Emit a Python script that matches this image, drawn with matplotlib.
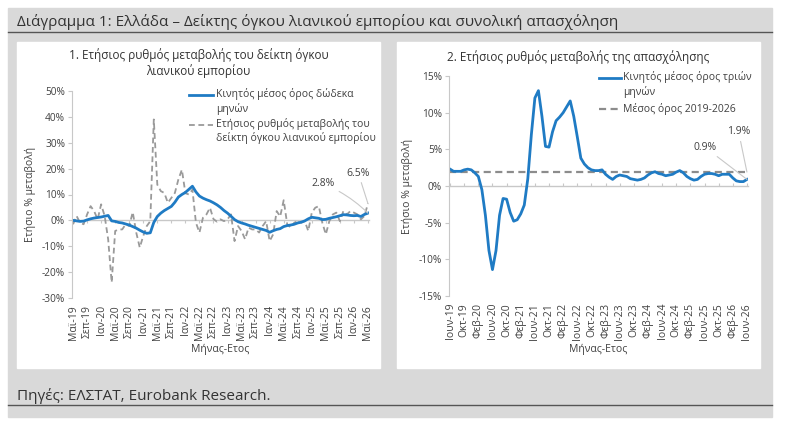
import matplotlib
matplotlib.use('Agg')
import matplotlib.pyplot as plt
from matplotlib.patches import Rectangle
from matplotlib.lines import Line2D

plt.rcParams['font.family'] = ['Open Sans', 'DejaVu Sans']

# --- δεδομένα: λιανικό εμπόριο (Μαϊ-19 .. Μαϊ-26, μηνιαία) ---
retail_ma12 = [0.0, -0.2, -0.4, -0.3, 0.2, 0.6, 0.9, 1.1, 1.3, 1.6, 1.9, -0.2,
               -0.4, -0.8, -1.0, -1.4, -1.8, -2.4, -3.0, -3.8, -4.5, -5.0, -4.8, -0.8,
               1.5, 2.8, 3.8, 4.6, 5.4, 7.0, 9.0, 10.0, 10.8, 12.0, 13.2, 11.0,
               9.4, 8.6, 8.0, 7.5, 6.8, 6.0, 5.0, 3.8, 2.8, 1.6, 0.3, -0.5,
               -1.0, -1.4, -1.9, -2.3, -2.7, -3.1, -3.5, -3.9, -4.6, -4.0, -3.5, -3.2,
               -2.4, -2.0, -1.8, -1.5, -1.0, -0.7, -0.2, 0.6, 1.2, 1.0, 0.8, 0.3,
               0.4, 0.8, 1.1, 1.4, 1.8, 2.2, 2.1, 1.9, 1.8, 1.9, 1.5, 2.3, 2.8]
retail_yoy = [-1.5, 1.7, -0.9, -1.5, 2.3, 5.5, 3.6, 0.4, 6.2, 1.7, -7.3, -24.0,
              -4.1, -3.5, -3.5, -1.5, -2.2, 3.2, -4.7, -10.5, -6.0, -2.2, -0.3, 39.0,
              13.8, 11.3, 10.6, 6.8, 8.7, 10.6, 15.8, 19.6, 10.5, 10.0, 11.9, -0.9,
              -4.7, 1.0, 2.3, 4.9, 0.5, -0.5, 0.4, -0.3, 0.4, 2.3, -8.0, -2.2,
              -4.1, -7.3, -2.8, -3.5, -3.5, -4.7, -2.2, -0.3, -8.0, -5.4, 3.6, 1.5,
              7.8, -1.5, -2.8, -0.9, -0.3, -0.9, -0.3, -4.1, 3.0, 4.9, 5.5, -0.9,
              -5.4, -0.3, 2.3, 3.0, -0.3, 3.6, 2.3, 3.6, 3.0, 2.3, 0.4, 1.7, 6.5]
retail_labels = ['Μαϊ-19', 'Σεπ-19', 'Ιαν-20', 'Μαϊ-20', 'Σεπ-20', 'Ιαν-21',
                 'Μαϊ-21', 'Σεπ-21', 'Ιαν-22', 'Μαϊ-22', 'Σεπ-22', 'Ιαν-23',
                 'Μαϊ-23', 'Σεπ-23', 'Ιαν-24', 'Μαϊ-24', 'Σεπ-24', 'Ιαν-25',
                 'Μαϊ-25', 'Σεπ-25', 'Ιαν-26', 'Μαϊ-26']

# --- δεδομένα: απασχόληση (Ιουν-19 .. Ιουν-26, μηνιαία) ---
employment_ma3 = [2.3, 2.0, 2.0, 2.0, 2.2, 2.3, 2.2, 1.8, 1.3, -0.5, -4.0, -8.8,
                  -11.4, -8.8, -4.0, -1.7, -1.8, -3.6, -4.8, -4.6, -3.8, -2.6, 1.0, 7.0,
                  12.0, 13.0, 9.5, 5.4, 5.3, 7.4, 8.9, 9.4, 10.0, 10.8, 11.6, 9.5,
                  6.7, 3.8, 3.0, 2.5, 2.2, 2.1, 2.1, 2.2, 1.6, 1.2, 0.9, 1.3,
                  1.5, 1.4, 1.3, 1.0, 0.9, 0.8, 0.9, 1.1, 1.5, 1.8, 1.95, 1.7,
                  1.6, 1.4, 1.5, 1.6, 1.9, 2.1, 1.8, 1.3, 1.0, 0.8, 0.9, 1.3,
                  1.6, 1.7, 1.7, 1.6, 1.4, 1.6, 1.6, 1.6, 1.1, 0.7, 0.6, 0.6, 0.9]
employment_mean = 1.9
employment_labels = ['Ιουν-19', 'Οκτ-19', 'Φεβ-20', 'Ιουν-20', 'Οκτ-20', 'Φεβ-21',
                     'Ιουν-21', 'Οκτ-21', 'Φεβ-22', 'Ιουν-22', 'Οκτ-22', 'Φεβ-23',
                     'Ιουν-23', 'Οκτ-23', 'Φεβ-24', 'Ιουν-24', 'Οκτ-24', 'Φεβ-25',
                     'Ιουν-25', 'Οκτ-25', 'Φεβ-26', 'Ιουν-26']

BLUE = '#1f7bc4'
GREY = '#9a9a9a'
LIGHT = '#c8c8c8'
TXT = '#404040'
DASH = (0, (3.2, 2))

W, H = 799, 429


def fx(px):
    return px / W


def fy(py):
    return 1 - py / H


fig = plt.figure(figsize=(W / 100, H / 100), dpi=100)
fig.patch.set_facecolor('white')

# γκρι πλαίσιο και λευκά panels
fig.add_artist(Rectangle((fx(8), fy(417)), fx(772) - fx(8), (417 - 8) / H,
                         transform=fig.transFigure, color='#d9d9d9', zorder=-10))
for x0, x1 in [(17, 380), (397, 760)]:
    fig.add_artist(Rectangle((fx(x0), fy(368)), fx(x1) - fx(x0), (368 - 42) / H,
                             transform=fig.transFigure, color='white', zorder=-9))
for yy in [32, 405]:
    fig.add_artist(Line2D([fx(8), fx(772)], [fy(yy), fy(yy)], transform=fig.transFigure,
                          color='#555555', lw=1.0, zorder=-8))

fig.text(fx(17), fy(22), 'Διάγραμμα 1: Ελλάδα – Δείκτης όγκου λιανικού εμπορίου και συνολική απασχόληση',
         fontsize=11, color='#333333', va='center', ha='left')
fig.text(fx(17), fy(396), 'Πηγές: ΕΛΣΤΑΤ, Eurobank Research.',
         fontsize=11, color='#333333', va='center', ha='left')


def style_axes(ax, ylim, yticks, labels):
    n = len(labels)
    ticks = [4 * k for k in range(n)]
    ax.set_facecolor('none')
    ax.set_xlim(-0.3, 84.3)
    ax.set_ylim(*ylim)
    for s in ['top', 'right', 'bottom']:
        ax.spines[s].set_visible(False)
    ax.spines['left'].set_color(LIGHT)
    ax.spines['left'].set_linewidth(0.8)
    ax.set_yticks(yticks)
    ax.set_yticklabels([f'{v}%' for v in yticks])
    ax.tick_params(axis='y', length=3, color=LIGHT, labelsize=7.3, labelcolor=TXT, pad=2)
    ax.set_xticks(ticks)
    ax.set_xticklabels(labels, rotation=90)
    ax.tick_params(axis='x', length=0, labelsize=7.5, labelcolor=TXT, pad=5)
    zero = (0 - ylim[0]) / (ylim[1] - ylim[0])
    sec = ax.secondary_xaxis(zero)
    sec.set_xticks(ticks)
    sec.set_xticklabels([])
    sec.tick_params(axis='x', length=2.5, color=LIGHT)
    for s in sec.spines.values():
        s.set_color(LIGHT)
        s.set_linewidth(1.0)
    ax.set_xlabel('Μήνας-Ετος', fontsize=7.5, color=TXT, labelpad=3)
    ax.set_ylabel('Ετήσιο % μεταβολή', fontsize=7.5, color=TXT, labelpad=4)


# --- αριστερό διάγραμμα ---
ax1 = fig.add_axes([fx(72), fy(298), fx(369) - fx(72), (298 - 91) / H])
x1 = range(len(retail_ma12))
ax1.plot(x1, retail_yoy, color=GREY, lw=1.3, ls=DASH)
ax1.plot(x1, retail_ma12, color=BLUE, lw=2.0)
style_axes(ax1, (-30, 50), [-30, -20, -10, 0, 10, 20, 30, 40, 50], retail_labels)

ax1.annotate(f'{retail_ma12[-1]}%', xy=(84, retail_ma12[-1]), xytext=(-32, 21),
             textcoords='offset points', fontsize=7.5, color=TXT, ha='center', va='center',
             arrowprops=dict(arrowstyle='-', color=LIGHT, lw=0.8, shrinkA=1, shrinkB=0,
                             connectionstyle='arc3,rad=-0.1'))
ax1.annotate(f'{retail_yoy[-1]}%', xy=(84, retail_yoy[-1]), xytext=(-7, 22),
             textcoords='offset points', fontsize=7.5, color=TXT, ha='center', va='center',
             arrowprops=dict(arrowstyle='-', color=LIGHT, lw=0.8, shrinkA=1, shrinkB=0))

fig.text(fx(198.5), fy(63), '1. Ετήσιος ρυθμός μεταβολής του δείκτη όγκου\nλιανικού εμπορίου',
         fontsize=8.5, color='#333333', ha='center', va='center', linespacing=1.25)

# υπόμνημα αριστερά
fig.add_artist(Line2D([fx(189), fx(213)], [fy(95), fy(95)], transform=fig.transFigure,
                      color=BLUE, lw=2.0))
fig.text(fx(216), fy(101.5), 'Κινητός μέσος όρος δώδεκα\nμηνών', fontsize=7.5,
         color=TXT, ha='left', va='center', linespacing=1.25)
fig.add_artist(Line2D([fx(189), fx(213)], [fy(125), fy(125)], transform=fig.transFigure,
                      color=GREY, lw=1.3, ls=DASH))
fig.text(fx(216), fy(131), 'Ετήσιος ρυθμός μεταβολής του\nδείκτη όγκου λιανικού εμπορίου',
         fontsize=7.5, color=TXT, ha='left', va='center', linespacing=1.25)

# --- δεξί διάγραμμα ---
ax2 = fig.add_axes([fx(449), fy(296), fx(748) - fx(449), (296 - 76) / H])
x2 = range(len(employment_ma3))
ax2.axhline(employment_mean, color='#8c8c8c', lw=1.6, ls=DASH)
ax2.plot(x2, employment_ma3, color=BLUE, lw=2.0)
style_axes(ax2, (-15, 15), [-15, -10, -5, 0, 5, 10, 15], employment_labels)

ax2.annotate(f'{employment_ma3[-1]}%', xy=(84, employment_ma3[-1]), xytext=(-30, 23),
             textcoords='offset points', fontsize=7.5, color=TXT, ha='center', va='center',
             arrowprops=dict(arrowstyle='-', color=LIGHT, lw=0.8, shrinkA=1, shrinkB=0))
ax2.annotate(f'{employment_mean}%', xy=(84, employment_mean), xytext=(-6, 29),
             textcoords='offset points', fontsize=7.5, color=TXT, ha='center', va='center',
             arrowprops=dict(arrowstyle='-', color=LIGHT, lw=0.8, shrinkA=1, shrinkB=0))

fig.text(fx(578), fy(57), '2. Ετήσιος ρυθμός μεταβολής της απασχόλησης',
         fontsize=8.5, color='#333333', ha='center', va='center')

fig.add_artist(Line2D([fx(599), fx(621)], [fy(78), fy(78)], transform=fig.transFigure,
                      color=BLUE, lw=2.0))
fig.text(fx(623), fy(84.5), 'Κινητός μέσος όρος τριών\nμηνών', fontsize=7.5,
         color=TXT, ha='left', va='center', linespacing=1.25)
fig.add_artist(Line2D([fx(599), fx(621)], [fy(109), fy(109)], transform=fig.transFigure,
                      color='#8c8c8c', lw=1.6, ls=DASH))
fig.text(fx(623), fy(109), 'Μέσος όρος 2019-2026', fontsize=7.5,
         color=TXT, ha='left', va='center')

fig.savefig('out.png', dpi=100)
